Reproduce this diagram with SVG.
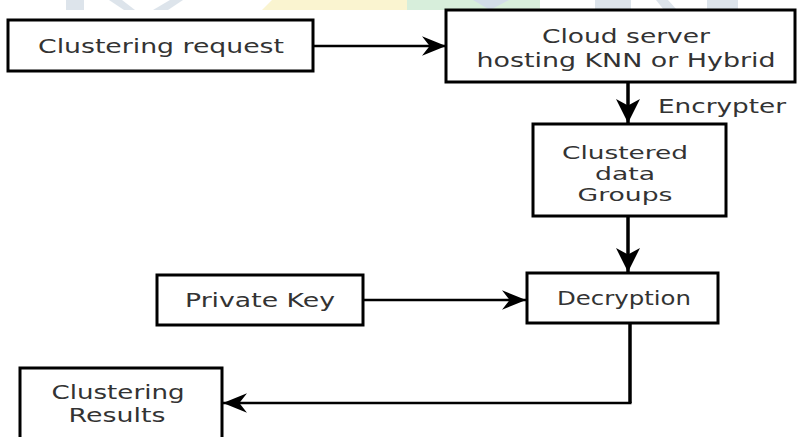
<svg xmlns="http://www.w3.org/2000/svg" width="798" height="437" viewBox="0 0 798 437">
<defs>
<style>
.box{fill:#ffffff;stroke:#000;stroke-width:3}
.lbl{font-family:"DejaVu Sans","Verdana",sans-serif;font-size:20px;fill:#333;text-anchor:middle}
.sm{font-size:18px}
.edge{fill:none;stroke:#000;stroke-width:2.5}
.edgev{fill:none;stroke:#000;stroke-width:3.5}
.wm{opacity:0.35}
</style>
<marker id="arr" markerUnits="userSpaceOnUse" markerWidth="24" markerHeight="20" refX="22" refY="9" orient="auto" viewBox="0 0 22 18">
<path d="M0,0 L22,9 L0,18 L7,9 Z" fill="#000"/>
</marker>
<marker id="arrv" markerUnits="userSpaceOnUse" markerWidth="24" markerHeight="24" refX="22" refY="11" orient="auto" viewBox="0 0 22 22">
<path d="M0,0 L22,11 L0,22 L6,11 Z" fill="#000"/>
</marker>
</defs>
<rect width="798" height="437" fill="#ffffff"/>
<g id="watermark" class="wm">
<rect x="66" y="0" width="18" height="10" fill="#9fb3c8"/>
<polygon points="109,0 122,0 135,10 124,10" fill="#9fb3c8"/>
<polygon points="153,10 170,0 183,0 168,10" fill="#9fb3c8"/>
<polygon points="262,10 272,0 410,0 407,10" fill="#f3e27a"/>
<rect x="407" y="0" width="133" height="10" fill="#8fd09a"/>
<polygon points="473,0 490,10 509,0" fill="#7fa0c0"/>
<rect x="595" y="0" width="36" height="10" fill="#9fb3c8"/>
<polygon points="656,0 668,0 677,10 664,10" fill="#9fb3c8"/>
<rect x="707" y="0" width="31" height="10" fill="#9fb3c8"/>
</g>
<g id="connectors">
<line class="edge" x1="313" y1="46" x2="446" y2="46" marker-end="url(#arr)"/>
<line class="edgev" x1="628" y1="82" x2="628" y2="123" marker-end="url(#arrv)"/>
<line class="edgev" x1="628" y1="216" x2="628" y2="272" marker-end="url(#arrv)"/>
<line class="edge" x1="363" y1="300" x2="526" y2="300" marker-end="url(#arr)"/>
<polyline class="edgev" points="630,323 630,403"/>
<line class="edge" x1="631.5" y1="403" x2="223" y2="403" marker-end="url(#arr)"/>
<text class="lbl" x="722" y="113" textLength="128" lengthAdjust="spacingAndGlyphs">Encrypter</text>
</g>
<g id="clustering-request">
<rect class="box" x="8" y="20" width="305" height="51"/>
<text class="lbl" x="161" y="53" textLength="246" lengthAdjust="spacingAndGlyphs">Clustering request</text>
</g>
<g id="cloud-server">
<rect class="box" x="446" y="10" width="349" height="72"/>
<text class="lbl" x="626" y="43" textLength="168" lengthAdjust="spacingAndGlyphs">Cloud server</text>
<text class="lbl" x="626" y="67" textLength="299" lengthAdjust="spacingAndGlyphs">hosting KNN or Hybrid</text>
</g>
<g id="clustered-data">
<rect class="box" x="533" y="124" width="193" height="92"/>
<text class="lbl sm" x="625" y="159" textLength="126" lengthAdjust="spacingAndGlyphs">Clustered</text>
<text class="lbl sm" x="625" y="180" textLength="60" lengthAdjust="spacingAndGlyphs">data</text>
<text class="lbl sm" x="625" y="201" textLength="95" lengthAdjust="spacingAndGlyphs">Groups</text>
</g>
<g id="decryption">
<rect class="box" x="527" y="273" width="191" height="50"/>
<text class="lbl" x="624" y="305" textLength="134" lengthAdjust="spacingAndGlyphs">Decryption</text>
</g>
<g id="private-key">
<rect class="box" x="157" y="275" width="206" height="50"/>
<text class="lbl" x="260" y="307" textLength="150" lengthAdjust="spacingAndGlyphs">Private Key</text>
</g>
<g id="clustering-results">
<rect class="box" x="20" y="368" width="202" height="80"/>
<text class="lbl" x="118" y="399" textLength="133" lengthAdjust="spacingAndGlyphs">Clustering</text>
<text class="lbl" x="117" y="422" textLength="97" lengthAdjust="spacingAndGlyphs">Results</text>
</g>
</svg>
